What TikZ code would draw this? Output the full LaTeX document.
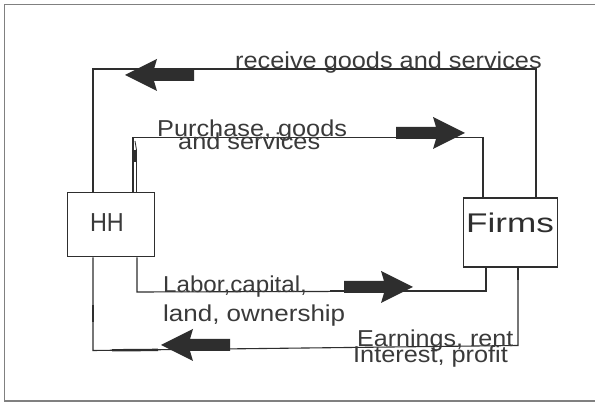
\documentclass[tikz,border=0pt]{standalone}
\usepackage{graphicx}
\usepackage{fontspec}
\setmainfont{Liberation Sans}
\definecolor{ink}{HTML}{2E2E2E}
\definecolor{txt}{HTML}{3A3A3A}
\definecolor{frame}{HTML}{808080}
\begin{document}
\begin{tikzpicture}[x=1pt,y=-1pt,
  flow/.style={draw=ink,line width=1.1pt,line join=miter},
  heavy/.style={draw=ink,line width=2.8pt},
  box/.style={draw=ink,line width=1.2pt,fill=white,inner sep=0pt},
  lbl/.style={text=txt,inner sep=0pt,anchor=base west,
    font=\fontsize{23}{23}\selectfont},
  pics/blockarrow/.style={code={
    \fill[ink] (0,0) -- (-32,-16) -- (-29,-6) -- (-69,-6) -- (-69,6)
      -- (-29,6) -- (-32,16) -- cycle;}}
]
% canvas and outer frame
\useasboundingbox (0,0) rectangle (595,403);
\fill[white] (0,0) rectangle (595,403);
\draw[frame,line width=1.6pt] (4.5,4.5) rectangle (602,401);

% the two sectors
\node[box,minimum width=87.5pt,minimum height=64.5pt] (hh) at (111,224.5) {};
\node[box,minimum width=94pt,minimum height=69pt] (firms) at (510.5,232.5) {};
\node[text=txt,inner sep=0pt,anchor=base,font=\fontsize{26}{26}\selectfont]
  (hhtext) at (107,232) {\scalebox{0.9}[1]{HH}};
\node[text=ink,inner sep=0pt,anchor=base,font=\fontsize{27}{27}\selectfont]
  (firmstext) at (510,233) {\scalebox{1.3}[1]{Firms}};

% corner points of the four loops
\coordinate (a1) at (93,69);    \coordinate (a2) at (536,69);
\coordinate (b1) at (133,137.5); \coordinate (b2) at (483,137.5);
\coordinate (c1) at (137,292);  \coordinate (c2) at (486,291);
\coordinate (d1) at (93,350.5); \coordinate (d2) at (518,345.5);

% goods and services received by households
\draw[flow] (firms.north -| a2) -- (a2) -- (a1) -- (hh.north -| a1);
% spending on goods and services
\draw[flow] (hh.north -| b1) -- (b1) -- (b2) -- (firms.north -| b2);
% factors of production
\draw[flow] (hh.south -| c1) -- (c1) -- (c2) -- (firms.south -| c2);
% factor payments
\draw[flow] (firms.south -| d2) -- (d2) -- (d1) -- (hh.south -| d1);

% heavier stretches along the loops
\draw[heavy] (330,291) -- (c2) -- ([yshift=1pt]firms.south -| c2);
\draw[heavy,line width=2.4pt] (112,350.3) -- (158,349.9);
\draw[heavy] (93,305) -- (93,322);
\draw[heavy] (483,163) -- (483,183);
\draw[heavy,line width=2.2pt] (483,140) -- (483,150);
\draw[heavy,line width=2.2pt] (518,268) -- (518,280);
\draw[ink,line width=0.9pt] (136.5,192) -- (136.5,150) -- (135,141);
\draw[heavy,line width=2pt] (134.6,150) -- (134.6,162);

% direction marks
\pic[rotate=180] (m1) at (125,75) {blockarrow};
\pic (m2) at (465,133) {blockarrow};
\pic (m3) at (413,287) {blockarrow};
\pic[rotate=180] (m4) at (161,345) {blockarrow};

% labels
\node[lbl] (l1) at (235,69) {\scalebox{1.1}[1]{receive goods and services}};
\node[lbl] (l2) at (157,137) {\scalebox{1.1}[1]{Purchase, goods}};
\node[lbl] (l3) at (178,150) {\scalebox{1.1}[1]{and services}};
\node[lbl] (l4) at (163,293) {\scalebox{1.05}[1]{Labor,capital,}};
\node[lbl] (l5) at (163,322) {\scalebox{1.13}[1]{land, ownership}};
\node[lbl] (l6) at (357,347) {\scalebox{1.09}[1]{Earnings, rent}};
\node[lbl] (l7) at (353,363) {\scalebox{1.1}[1]{Interest, profit}};
\end{tikzpicture}
\end{document}
